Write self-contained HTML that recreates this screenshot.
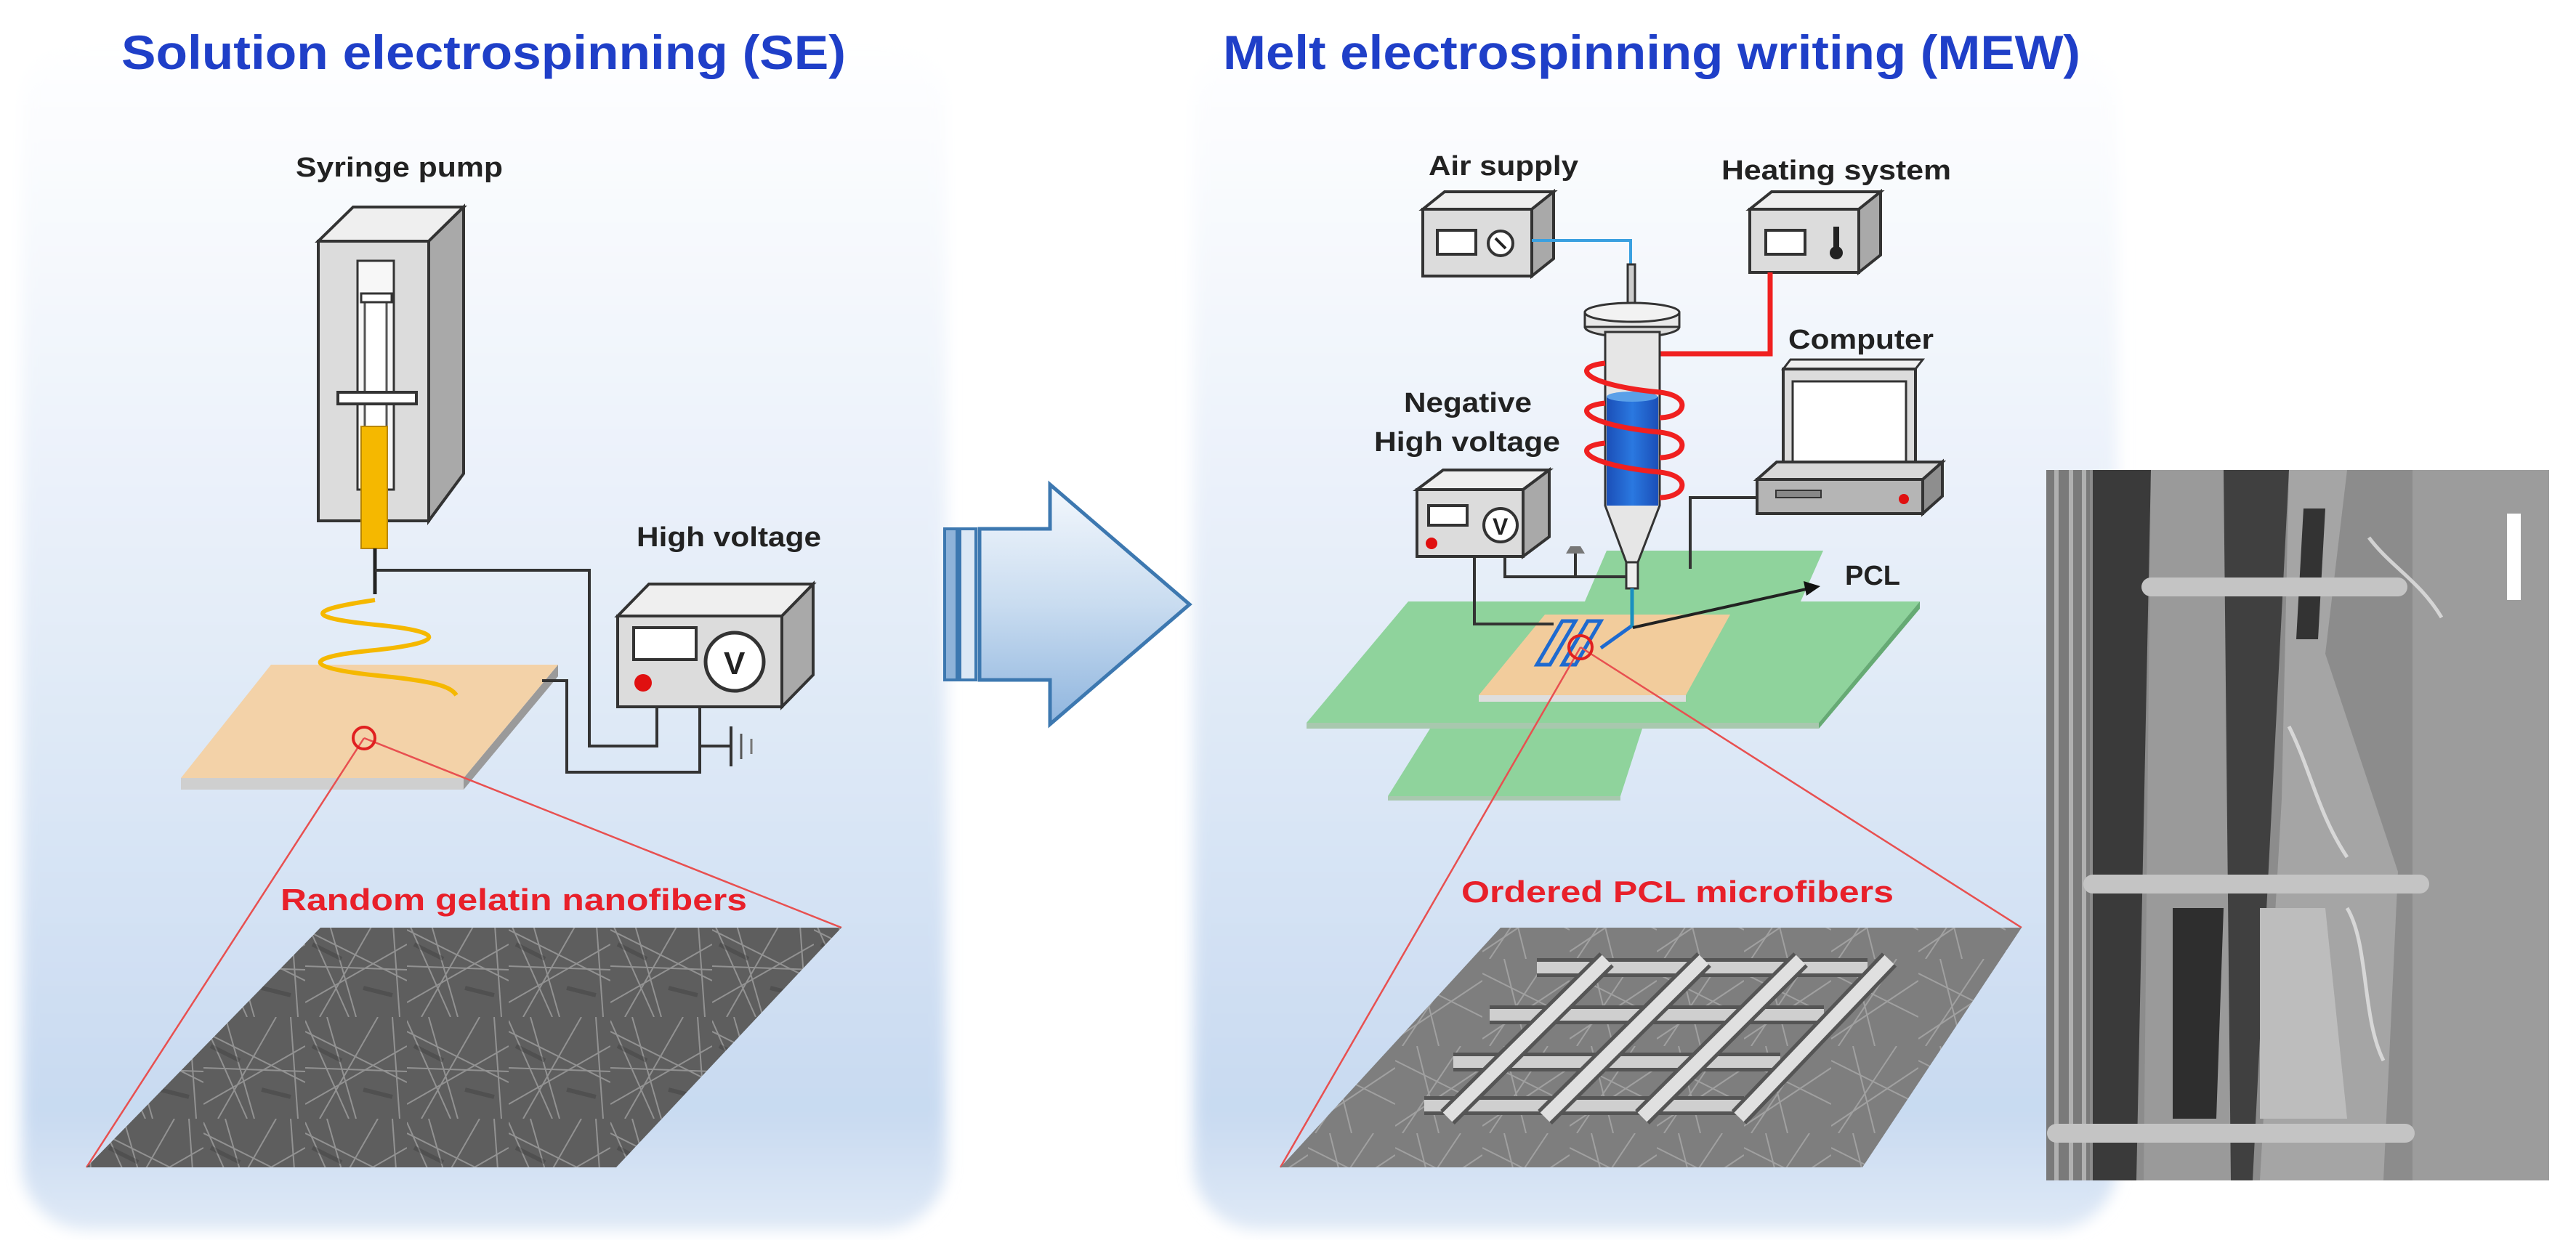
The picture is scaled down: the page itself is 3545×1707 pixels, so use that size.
<!DOCTYPE html>
<html><head><meta charset="utf-8"><style>
html,body{margin:0;padding:0;background:#fff;}
svg{display:block;}
text{font-family:"Liberation Sans",Arial,sans-serif;font-weight:bold;}
</style></head><body>
<svg width="3545" height="1707" viewBox="0 0 3545 1707" xmlns="http://www.w3.org/2000/svg">
<defs>
<linearGradient id="pg" x1="0" y1="0" x2="0" y2="1">
<stop offset="0" stop-color="#ffffff"/><stop offset="0.25" stop-color="#f2f6fc"/>
<stop offset="0.6" stop-color="#dde8f6"/><stop offset="0.9" stop-color="#c8daf1"/><stop offset="1" stop-color="#dfe9f6"/>
</linearGradient>
<filter id="soft"><feGaussianBlur stdDeviation="10"/></filter>
<linearGradient id="ag" x1="0" y1="0" x2="0" y2="1">
<stop offset="0" stop-color="#f4f8fd"/><stop offset="0.5" stop-color="#c9dcf0"/><stop offset="1" stop-color="#8fb5de"/>
</linearGradient>
<linearGradient id="blue" x1="0" y1="0" x2="1" y2="0">
<stop offset="0" stop-color="#1b4fb8"/><stop offset="0.5" stop-color="#2a78e0"/><stop offset="1" stop-color="#1b4fb8"/>
</linearGradient>
<pattern id="fib" width="140" height="140" patternUnits="userSpaceOnUse">
<rect width="140" height="140" fill="#5e5e5e"/>
<g stroke="#a8a8a8" stroke-width="2" opacity="0.7" fill="none">
<path d="M0 20 L140 90"/><path d="M30 0 L70 140"/><path d="M0 120 L140 40"/><path d="M100 0 L20 140"/>
<path d="M0 70 L140 75"/><path d="M120 0 L130 140"/><path d="M0 5 L60 140"/>
</g>
<g stroke="#3a3a3a" stroke-width="6" opacity="0.4"><path d="M10 40 L50 60"/><path d="M80 100 L120 110"/></g>
</pattern>
<pattern id="fib2" width="120" height="120" patternUnits="userSpaceOnUse">
<rect width="120" height="120" fill="#7e7e7e"/>
<g stroke="#b8b8b8" stroke-width="2" opacity="0.6" fill="none">
<path d="M0 20 L120 80"/><path d="M30 0 L60 120"/><path d="M0 110 L120 30"/><path d="M90 0 L10 120"/>
</g>
</pattern>
</defs>

<!-- panels -->
<g filter="url(#soft)">
<rect x="30" y="45" width="1272" height="1648" rx="90" fill="url(#pg)"/>
<rect x="1642" y="45" width="1272" height="1648" rx="90" fill="url(#pg)"/>
</g>

<!-- titles -->
<text x="167" y="95" font-size="66" fill="#1f3fc8" textLength="997" lengthAdjust="spacingAndGlyphs">Solution electrospinning (SE)</text>
<text x="1683" y="95" font-size="66" fill="#1f3fc8" textLength="1180" lengthAdjust="spacingAndGlyphs">Melt electrospinning writing (MEW)</text>

<!-- ===== LEFT ===== -->
<text x="407" y="243" font-size="38" fill="#222" textLength="285" lengthAdjust="spacingAndGlyphs">Syringe pump</text>
<!-- pump box -->
<polygon points="438,332 486,285 638,285 590,332" fill="#efefef" stroke="#333" stroke-width="4"/>
<polygon points="590,332 638,285 638,652 590,717" fill="#a9a9a9" stroke="#333" stroke-width="4"/>
<rect x="438" y="332" width="152" height="385" fill="#dcdcdc" stroke="#333" stroke-width="4"/>
<rect x="492" y="359" width="50" height="315" fill="#f7f7f7" stroke="#333" stroke-width="3"/>
<rect x="502" y="410" width="30" height="180" fill="#fff" stroke="#555" stroke-width="3"/>
<rect x="497" y="404" width="42" height="12" fill="#fff" stroke="#333" stroke-width="3"/>
<rect x="465" y="540" width="108" height="16" fill="#fff" stroke="#333" stroke-width="4"/>
<rect x="497" y="587" width="36" height="168" fill="#f5b800" stroke="#b88600" stroke-width="2"/>
<line x1="516" y1="755" x2="516" y2="818" stroke="#222" stroke-width="5"/>
<!-- wires -->
<polyline points="516,785 811,785 811,1027 904,1027 904,973" fill="none" stroke="#333" stroke-width="4"/>
<!-- plate -->
<polygon points="249,1071 638,1071 638,1087 249,1087" fill="#cfcfcf"/>
<polygon points="638,1071 768,915 768,931 638,1087" fill="#9a9a9a"/>
<polygon points="373,915 768,915 638,1071 249,1071" fill="#f2cc9c"/>
<polygon points="373,915 768,915 638,1071 249,1071" fill="#fff" opacity="0.12"/>
<polyline points="746,937 780,937 780,1063 963,1063 963,973" fill="none" stroke="#333" stroke-width="4"/>
<line x1="963" y1="1027" x2="1006" y2="1027" stroke="#333" stroke-width="4"/>
<line x1="1006" y1="1000" x2="1006" y2="1055" stroke="#333" stroke-width="4"/>
<line x1="1020" y1="1010" x2="1020" y2="1045" stroke="#555" stroke-width="3"/>
<line x1="1034" y1="1017" x2="1034" y2="1038" stroke="#777" stroke-width="3"/>
<!-- spiral -->
<path d="M516 826 C420 840 420 850 516 860 C620 870 610 885 516 895 C410 905 420 920 520 930 C600 938 620 945 628 957" fill="none" stroke="#f5b800" stroke-width="6"/>
<!-- voltage box -->
<text x="876" y="752" font-size="38" fill="#222" textLength="254" lengthAdjust="spacingAndGlyphs">High voltage</text>
<polygon points="850,848 893,804 1119,804 1076,848" fill="#efefef" stroke="#333" stroke-width="4"/>
<polygon points="1076,848 1119,804 1119,929 1076,973" fill="#a9a9a9" stroke="#333" stroke-width="4"/>
<rect x="850" y="848" width="226" height="125" fill="#dcdcdc" stroke="#333" stroke-width="4"/>
<rect x="872" y="864" width="86" height="44" fill="#fff" stroke="#333" stroke-width="4"/>
<circle cx="1011" cy="911" r="40" fill="#fff" stroke="#333" stroke-width="5"/>
<text x="996" y="928" font-size="44" fill="#222">V</text>
<circle cx="885" cy="940" r="12" fill="#e01010"/>
<!-- zoom lines -->
<line x1="501" y1="1016" x2="119" y2="1607" stroke="#e85050" stroke-width="2.5"/>
<line x1="501" y1="1016" x2="1158" y2="1277" stroke="#e85050" stroke-width="2.5"/>
<circle cx="501" cy="1016" r="15" fill="none" stroke="#e02020" stroke-width="4"/>
<text x="386" y="1253" font-size="42" fill="#e8202a" textLength="642" lengthAdjust="spacingAndGlyphs">Random gelatin nanofibers</text>
<polygon points="441,1277 1158,1277 848,1607 119,1607" fill="url(#fib)"/>

<!-- ===== ARROW ===== -->
<rect x="1300" y="728" width="17" height="208" fill="#8fb3d9" stroke="#3d78b0" stroke-width="4"/>
<rect x="1321" y="728" width="22" height="208" fill="#dce8f5" stroke="#3d78b0" stroke-width="4"/>
<polygon points="1348,728 1445,728 1445,667 1637,832 1445,997 1445,936 1348,936" fill="url(#ag)" stroke="#3d78b0" stroke-width="5"/>

<!-- ===== RIGHT ===== -->
<text x="1966" y="241" font-size="38" fill="#222" textLength="206" lengthAdjust="spacingAndGlyphs">Air supply</text>
<polygon points="1958,288 1988,264 2138,264 2108,288" fill="#efefef" stroke="#333" stroke-width="4"/>
<polygon points="2108,288 2138,264 2138,356 2108,380" fill="#a9a9a9" stroke="#333" stroke-width="4"/>
<rect x="1958" y="288" width="150" height="92" fill="#dcdcdc" stroke="#333" stroke-width="4"/>
<rect x="1978" y="317" width="53" height="33" fill="#fff" stroke="#333" stroke-width="4"/>
<circle cx="2065" cy="335" r="17" fill="#fff" stroke="#333" stroke-width="4"/>
<line x1="2058" y1="328" x2="2072" y2="342" stroke="#222" stroke-width="4"/>
<polyline points="2108,331 2244,331 2244,370" fill="none" stroke="#3aa0e0" stroke-width="4"/>

<text x="2369" y="247" font-size="38" fill="#222" textLength="316" lengthAdjust="spacingAndGlyphs">Heating system</text>
<polygon points="2408,288 2438,264 2588,264 2558,288" fill="#efefef" stroke="#333" stroke-width="4"/>
<polygon points="2558,288 2588,264 2588,351 2558,375" fill="#a9a9a9" stroke="#333" stroke-width="4"/>
<rect x="2408" y="288" width="150" height="87" fill="#dcdcdc" stroke="#333" stroke-width="4"/>
<rect x="2430" y="317" width="54" height="33" fill="#fff" stroke="#333" stroke-width="4"/>
<rect x="2523" y="312" width="8" height="30" fill="#222"/><circle cx="2527" cy="348" r="9" fill="#222"/>
<polyline points="2436,375 2436,487 2284,487" fill="none" stroke="#f02020" stroke-width="7"/>

<!-- computer -->
<text x="2461" y="480" font-size="38" fill="#222" textLength="200" lengthAdjust="spacingAndGlyphs">Computer</text>
<polygon points="2454,508 2464,495 2646,495 2636,508" fill="#efefef" stroke="#333" stroke-width="3"/>
<rect x="2454" y="508" width="182" height="140" fill="#dcdcdc" stroke="#333" stroke-width="4"/>
<rect x="2467" y="525" width="156" height="115" fill="#fff" stroke="#333" stroke-width="3"/>
<polygon points="2418,660 2445,636 2673,636 2646,660" fill="#d8d8d8" stroke="#333" stroke-width="4"/>
<polygon points="2646,660 2673,636 2673,683 2646,707" fill="#8e8e8e" stroke="#333" stroke-width="4"/>
<rect x="2418" y="660" width="228" height="47" fill="#b5b5b5" stroke="#333" stroke-width="4"/>
<rect x="2444" y="675" width="62" height="10" fill="#888" stroke="#333" stroke-width="2"/>
<circle cx="2620" cy="687" r="7" fill="#e01010"/>

<!-- green plates -->
<polygon points="2211,758 2509,758 2478,828 2181,828" fill="#8fd39c"/>
<polygon points="1938,828 2642,828 2503,995 1798,995" fill="#8fd39c"/>
<polygon points="2642,828 2642,838 2503,1003 2503,995" fill="#66aa74"/>
<polygon points="1798,995 2503,995 2503,1003 1798,1003" fill="#a8c8ae"/>
<polygon points="1968,1003 2260,1003 2230,1096 1910,1096" fill="#8fd39c"/>
<polygon points="1910,1096 2230,1096 2230,1102 1910,1102" fill="#a8c8ae"/>
<!-- substrate -->
<polygon points="2035,957 2320,957 2320,966 2035,966" fill="#dedede"/>
<polygon points="2126,846 2381,846 2320,957 2035,957" fill="#f2cc9c"/>
<polygon points="2115,915 2150,855 2168,855 2133,915" fill="none" stroke="#1e6ad0" stroke-width="5"/>
<polygon points="2150,915 2185,855 2203,855 2168,915" fill="none" stroke="#1e6ad0" stroke-width="5"/>
<line x1="2203" y1="892" x2="2245" y2="862" stroke="#1e6ad0" stroke-width="5"/>

<!-- NHV wires -->
<polyline points="2071,766 2071,794 2241,794" fill="none" stroke="#333" stroke-width="4"/>
<line x1="2168" y1="760" x2="2168" y2="794" stroke="#333" stroke-width="4"/>
<polygon points="2155,762 2181,762 2175,752 2161,752" fill="#777"/>
<polyline points="2029,766 2029,859 2138,859" fill="none" stroke="#333" stroke-width="4"/>
<polyline points="2418,685 2326,685 2326,783" fill="none" stroke="#333" stroke-width="4"/>

<!-- reservoir -->
<rect x="2240" y="364" width="10" height="70" fill="#ccc" stroke="#333" stroke-width="3"/>
<ellipse cx="2246" cy="450" rx="65" ry="14" fill="#ddd" stroke="#333" stroke-width="3"/>
<rect x="2181" y="430" width="130" height="20" fill="#e8e8e8" stroke="#333" stroke-width="3"/>
<ellipse cx="2246" cy="430" rx="65" ry="13" fill="#f2f2f2" stroke="#333" stroke-width="3"/>
<polygon points="2209,457 2284,457 2284,696 2254,774 2238,774 2209,696" fill="#e6e6e6" stroke="#333" stroke-width="3"/>
<rect x="2211" y="546" width="71" height="150" fill="url(#blue)"/>
<ellipse cx="2246" cy="546" rx="35" ry="7" fill="#5aa0e8"/>
<rect x="2238" y="774" width="16" height="36" fill="#eee" stroke="#333" stroke-width="3"/>
<line x1="2246" y1="810" x2="2246" y2="864" stroke="#1a8fc0" stroke-width="5"/>
<g fill="none" stroke="#f02020" stroke-width="7">
<path d="M2209 500 C2160 505 2180 530 2284 540 C2330 545 2320 575 2284 575"/>
<path d="M2209 555 C2160 560 2180 585 2284 595 C2330 600 2320 630 2284 630"/>
<path d="M2209 610 C2160 615 2180 640 2284 650 C2330 655 2320 685 2284 685"/>
</g>
<!-- NHV box -->
<text x="1932" y="567" font-size="38" fill="#222" textLength="176" lengthAdjust="spacingAndGlyphs">Negative</text>
<text x="1891" y="621" font-size="38" fill="#222" textLength="256" lengthAdjust="spacingAndGlyphs">High voltage</text>
<polygon points="1950,674 1986,647 2132,647 2096,674" fill="#efefef" stroke="#333" stroke-width="4"/>
<polygon points="2096,674 2132,647 2132,739 2096,766" fill="#a9a9a9" stroke="#333" stroke-width="4"/>
<rect x="1950" y="674" width="146" height="92" fill="#dcdcdc" stroke="#333" stroke-width="4"/>
<rect x="1966" y="696" width="53" height="27" fill="#fff" stroke="#333" stroke-width="4"/>
<circle cx="2065" cy="723" r="23" fill="#fff" stroke="#333" stroke-width="4"/>
<text x="2054" y="736" font-size="32" fill="#222">V</text>
<circle cx="1970" cy="748" r="8" fill="#e01010"/>

<!-- PCL arrow -->
<line x1="2247" y1="864" x2="2490" y2="810" stroke="#222" stroke-width="4"/>
<polygon points="2505,807 2482,800 2486,820" fill="#111"/>
<text x="2539" y="805" font-size="38" fill="#222">PCL</text>

<!-- zoom lines -->
<line x1="2175" y1="891" x2="1762" y2="1607" stroke="#e85050" stroke-width="2.5"/>
<line x1="2175" y1="891" x2="2782" y2="1277" stroke="#e85050" stroke-width="2.5"/>
<circle cx="2175" cy="891" r="16" fill="none" stroke="#e02020" stroke-width="4"/>
<text x="2011" y="1242" font-size="42" fill="#e8202a" textLength="595" lengthAdjust="spacingAndGlyphs">Ordered PCL microfibers</text>
<polygon points="2065,1277 2782,1277 2563,1607 1762,1607" fill="url(#fib2)"/>
<!-- rods -->
<g stroke-linecap="butt">
<g stroke="#555" stroke-width="26">
<line x1="2115" y1="1332" x2="2570" y2="1332"/><line x1="2050" y1="1397" x2="2510" y2="1397"/>
<line x1="2000" y1="1462" x2="2450" y2="1462"/><line x1="1960" y1="1522" x2="2400" y2="1522"/>
</g>
<g stroke="#cfcfcf" stroke-width="16">
<line x1="2115" y1="1332" x2="2570" y2="1332"/><line x1="2050" y1="1397" x2="2510" y2="1397"/>
<line x1="2000" y1="1462" x2="2450" y2="1462"/><line x1="1960" y1="1522" x2="2400" y2="1522"/>
</g>
<g stroke="#555" stroke-width="28">
<line x1="1992" y1="1538" x2="2211" y2="1321"/><line x1="2126" y1="1538" x2="2345" y2="1321"/>
<line x1="2260" y1="1538" x2="2478" y2="1321"/><line x1="2393" y1="1538" x2="2600" y2="1321"/>
</g>
<g stroke="#e0e0e0" stroke-width="18">
<line x1="1992" y1="1538" x2="2211" y2="1321"/><line x1="2126" y1="1538" x2="2345" y2="1321"/>
<line x1="2260" y1="1538" x2="2478" y2="1321"/><line x1="2393" y1="1538" x2="2600" y2="1321"/>
</g>
</g>

<!-- ===== SEM ===== -->
<rect x="2816" y="647" width="692" height="978" fill="#8c8c8c"/>
<rect x="3320" y="647" width="188" height="978" fill="#9c9c9c"/>
<rect x="2816" y="647" width="60" height="978" fill="#7a7a7a"/>
<g stroke="#b0b0b0" stroke-width="6"><line x1="2830" y1="647" x2="2830" y2="1625"/><line x1="2850" y1="647" x2="2850" y2="1625"/><line x1="2868" y1="647" x2="2868" y2="1625"/></g>
<polygon points="2880,647 2960,647 2940,1625 2880,1625" fill="#3a3a3a"/>
<polygon points="2960,647 3060,647 3080,1625 2950,1625" fill="#9a9a9a"/>
<polygon points="3060,647 3150,647 3100,1625 3070,1625" fill="#404040"/>
<polygon points="3150,647 3230,647 3200,900 3300,1200 3280,1625 3110,1625 3140,1100" fill="#a5a5a5"/>
<polygon points="3170,700 3200,700 3190,880 3160,880" fill="#333"/>
<polygon points="2990,1250 3060,1250 3050,1540 2990,1540" fill="#2e2e2e"/>
<polygon points="3110,1250 3200,1250 3230,1540 3110,1540" fill="#bdbdbd"/>
<g stroke="#c4c4c4" stroke-width="26" stroke-linecap="round">
<line x1="2960" y1="808" x2="3300" y2="808"/>
<line x1="2880" y1="1217" x2="3330" y2="1217"/>
<line x1="2830" y1="1560" x2="3310" y2="1560"/>
</g>
<g stroke="#e4e4e4" stroke-width="5" fill="none" opacity="0.8">
<path d="M3260 740 C3290 780 3330 800 3360 850"/><path d="M3230 1250 C3260 1300 3250 1400 3280 1460"/>
<path d="M3150 1000 C3180 1060 3190 1120 3230 1180"/>
</g>
<rect x="3450" y="707" width="19" height="119" fill="#fff"/>
</svg>
</body></html>
